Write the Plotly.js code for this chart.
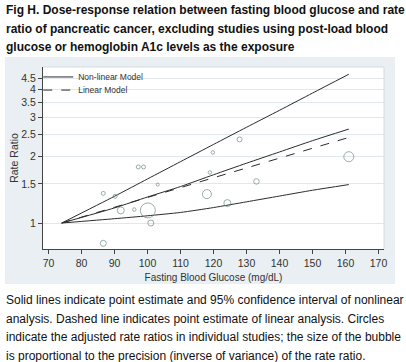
<!DOCTYPE html>
<html>
<head>
<meta charset="utf-8">
<script src="https://cdn.plot.ly/plotly-3.0.1.min.js"></script>
<style>
html,body{margin:0;padding:0;background:#fff;}
#wrap{position:relative;width:406px;height:362px;overflow:hidden;}
#panel{position:absolute;left:5px;top:57px;width:390px;height:227px;background:#e9eff2;}
#chart{position:absolute;left:0;top:0;width:406px;height:362px;}
</style>
</head>
<body>
<div id="wrap"><div id="panel"></div><div id="chart"></div></div>
<script>
// Fitted curves (fasting blood glucose, mg/dL)
var curveX = [74.0, 90, 100, 110, 120, 130, 140, 150, 161.0];
var nonlinearRR = [1.00, 1.17, 1.31, 1.46, 1.65, 1.86, 2.09, 2.35, 2.65];
var upperCI = [1.00, 1.32, 1.58, 1.89, 2.26, 2.70, 3.22, 3.85, 4.68];
var lowerCI = [1.00, 1.046, 1.078, 1.116, 1.174, 1.246, 1.323, 1.405, 1.49];
var linearX = [74.0, 161.0];
var linearRR = [1.00, 2.43];

// Individual studies (bubbles)
var studyGlucose = [86.6, 90.2, 91.9, 96.0, 100.1, 101.0, 103.1, 86.6, 97.2, 98.8, 127.9, 119.8, 118.9, 133.0, 118.0, 124.2, 161.0];
var studyRR = [1.36, 1.32, 1.14, 1.15, 1.14, 1.00, 1.49, 0.81, 1.79, 1.79, 2.38, 2.08, 1.69, 1.54, 1.35, 1.23, 1.99];
var studyPrecision = [4, 4, 7, 3.5, 15, 6, 3, 6, 4, 4, 5, 3.5, 3.5, 5.5, 9, 7, 10];

var yTicks = [1, 1.5, 2, 2.5, 3, 3.5, 4, 4.5];
var xTicks = [70, 80, 90, 100, 110, 120, 130, 140, 150, 160, 170];

var titleLines = [
  "Fig H. Dose-response relation between fasting blood glucose and rate",
  "ratio of pancreatic cancer, excluding studies using post-load blood",
  "glucose or hemoglobin A1c levels as the exposure"
];
var captionLines = [
  "Solid lines indicate point estimate and 95% confidence interval of nonlinear",
  "analysis. Dashed line indicates point estimate of linear analysis. Circles",
  "indicate the adjusted rate ratios in individual studies; the size of the bubble",
  "is proportional to the precision (inverse of variance) of the rate ratio."
];

var FONT = 'Liberation Sans, Arial, Helvetica, sans-serif';
var lineColor = '#2b2b2b';
var traces = [
  {x: curveX, y: upperCI, mode: 'lines', line: {color: lineColor, width: 1, shape: 'spline', smoothing: 0.6}, showlegend: false, hoverinfo: 'skip'},
  {x: curveX, y: lowerCI, mode: 'lines', line: {color: lineColor, width: 1, shape: 'spline', smoothing: 0.6}, showlegend: false, hoverinfo: 'skip'},
  {x: curveX, y: nonlinearRR, mode: 'lines', name: 'Non-linear Model', line: {color: lineColor, width: 1, shape: 'spline', smoothing: 0.6}, legend: 'legend'},
  {x: linearX, y: linearRR, mode: 'lines', name: 'Linear Model', line: {color: lineColor, width: 1, dash: 'dash'}, legend: 'legend2'},
  {x: studyGlucose, y: studyRR, mode: 'markers', showlegend: false,
   marker: {symbol: 'circle-open', size: studyPrecision, color: '#6f8b87', line: {width: 1, color: '#6f8b87'}}}
];

// pixel rows of the text lines -> paper coordinates (plot area spans 67..249 px)
function py(px) { return (249 - px) / 182; }
var titleRows = [10, 28.8, 47.5];
var capRows = [300, 318.7, 337.4, 356];
var annotations = [];
titleLines.forEach(function (t, i) {
  annotations.push({text: '<b>' + t + '</b>', xref: 'paper', yref: 'paper', x: -0.1114, y: py(titleRows[i]),
    xanchor: 'left', yanchor: 'middle', showarrow: false, borderpad: 0,
    font: {family: FONT, size: 12, color: '#111'}});
});
captionLines.forEach(function (t, i) {
  annotations.push({text: t, xref: 'paper', yref: 'paper', x: -0.1114, y: py(capRows[i]),
    xanchor: 'left', yanchor: 'middle', showarrow: false, borderpad: 0,
    font: {family: FONT, size: 12, color: '#111'}});
});

var layout = {
  width: 406, height: 362,
  margin: {l: 43, r: 22, t: 67, b: 113},
  paper_bgcolor: 'rgba(0,0,0,0)',
  plot_bgcolor: '#ffffff',
  font: {family: FONT, color: '#333'},
  xaxis: {type: 'linear', range: [68.33, 171.67], tickvals: xTicks, ticktext: xTicks.map(String),
          ticks: 'outside', ticklen: 4, tickcolor: '#444', showline: true, linecolor: '#444', linewidth: 1,
          showgrid: false, zeroline: false, tickfont: {size: 10.5, color: '#333'},
          title: {text: 'Fasting Blood Glucose (mg/dL)', font: {size: 10, color: '#333'}, standoff: 6}},
  yaxis: {type: 'log', range: [-0.117, 0.703], tickvals: yTicks, ticktext: yTicks.map(String),
          ticks: 'outside', ticklen: 4, tickcolor: '#444', showline: true, linecolor: '#444', linewidth: 1,
          showgrid: true, gridcolor: '#e1e8eb', gridwidth: 1, zeroline: false, tickfont: {size: 10.5, color: '#333'},
          title: {text: 'Rate Ratio', font: {size: 10.5, color: '#333'}, standoff: 0}},
  legend: {x: -0.014, y: 1.025, xanchor: 'left', yanchor: 'top', bgcolor: 'rgba(0,0,0,0)', borderwidth: 0,
           font: {size: 8.5, color: '#333'}, itemwidth: 30},
  legend2: {x: -0.014, y: 0.953, xanchor: 'left', yanchor: 'top', bgcolor: 'rgba(0,0,0,0)', borderwidth: 0,
           font: {size: 8.5, color: '#333'}, itemwidth: 30},
  shapes: [
    {type: 'path', xref: 'paper', yref: 'paper', path: 'M0,1 L1,1 L1,0',
     line: {width: 1, color: '#d3dce0'}, layer: 'above'}
  ],
  annotations: annotations
};

Plotly.newPlot('chart', traces, layout, {displayModeBar: false, staticPlot: true});
</script>
</body>
</html>
